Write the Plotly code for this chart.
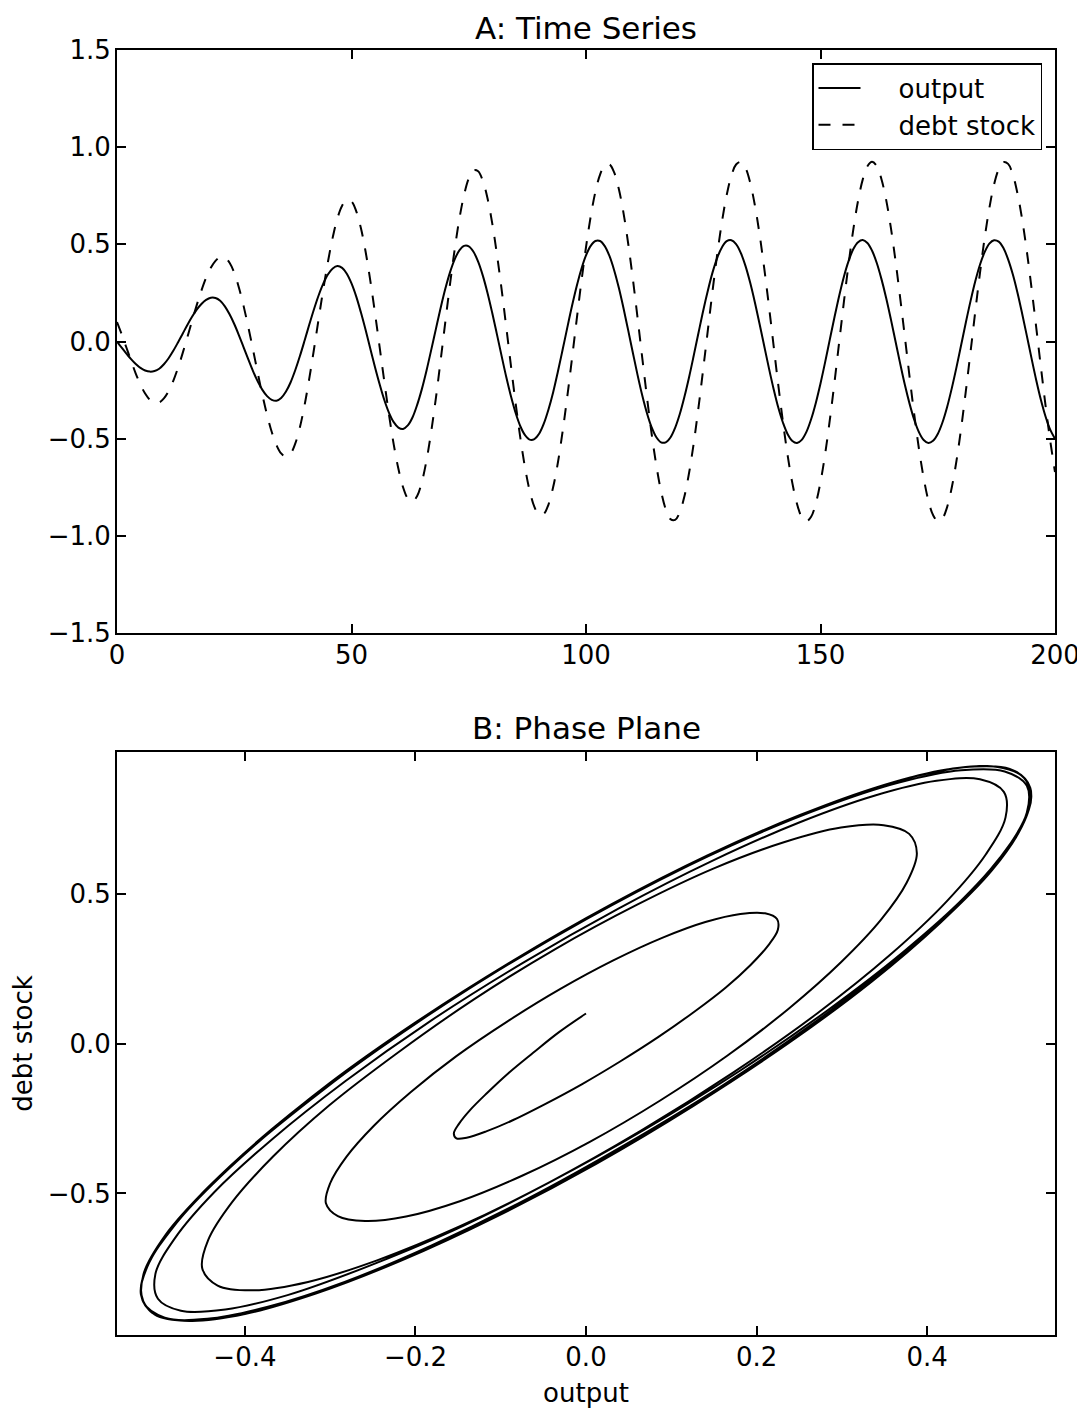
import plotly.graph_objects as go

# ---- data ----
time = list(range(0, 201))

output = [
    0.000, -0.032, -0.062, -0.091, -0.116, -0.136, -0.149, -0.155,
    -0.152, -0.140, -0.117, -0.086, -0.048, -0.005, 0.040, 0.085, 0.127, 0.164, 0.193, 0.214, 0.225,
    0.224, 0.210, 0.181, 0.140, 0.090, 0.032, -0.030, -0.092, -0.152, -0.205, -0.249, -0.281, -0.300,
    -0.305, -0.291, -0.259, -0.211, -0.148, -0.075, 0.005, 0.087, 0.166, 0.238, 0.299, 0.346, 0.376, 0.388,
    0.379, 0.349, 0.299, 0.232, 0.150, 0.060, -0.036, -0.131, -0.220, -0.301, -0.367, -0.415, -0.443,
    -0.450, -0.432, -0.391, -0.326, -0.245, -0.149, -0.043, 0.065, 0.172, 0.271, 0.356, 0.423, 0.469, 0.492,
    0.490, 0.462, 0.411, 0.339, 0.250, 0.148, 0.038, -0.074, -0.183, -0.282, -0.368, -0.436, -0.482, -0.505,
    -0.502, -0.475, -0.423, -0.350, -0.261, -0.156, -0.044, 0.070, 0.181, 0.283, 0.372, 0.443, 0.492, 0.517,
    0.517, 0.491, 0.440, 0.367, 0.276, 0.171, 0.057, -0.059, -0.173, -0.278, -0.369, -0.442, -0.493, -0.519,
    -0.519, -0.494, -0.444, -0.373, -0.283, -0.181, -0.069, 0.046, 0.160, 0.264, 0.357, 0.432, 0.485, 0.516,
    0.521, 0.501, 0.456, 0.389, 0.303, 0.202, 0.091, -0.023, -0.137, -0.244, -0.340, -0.418, -0.477, -0.512,
    -0.522, -0.506, -0.465, -0.400, -0.316, -0.216, -0.105, 0.012, 0.127, 0.237, 0.335, 0.415, 0.476, 0.511,
    0.522, 0.507, 0.467, 0.404, 0.321, 0.224, 0.115, 0.000, -0.115, -0.224, -0.321, -0.404, -0.467, -0.507, -0.522,
    -0.511, -0.476, -0.417, -0.337, -0.240, -0.132, -0.017, 0.099, 0.209, 0.310, 0.395, 0.460, 0.504, 0.521,
    0.514, 0.481, 0.423, 0.346, 0.251, 0.143, 0.029, -0.087, -0.199, -0.301, -0.387, -0.455, -0.500,
]

debt_stock = [
    0.100, 0.037, -0.031, -0.099, -0.165, -0.222, -0.268, -0.300, -0.316,
    -0.314, -0.293, -0.256, -0.202, -0.136, -0.060, 0.022, 0.106, 0.187, 0.262, 0.328, 0.379, 0.415, 0.434,
    0.432, 0.405, 0.353, 0.277, 0.182, 0.074, -0.042, -0.161, -0.275, -0.378, -0.466, -0.533, -0.576, -0.592,
    -0.577, -0.526, -0.441, -0.327, -0.190, -0.040, 0.117, 0.271, 0.413, 0.536, 0.634, 0.699, 0.728,
    0.720, 0.671, 0.584, 0.463, 0.315, 0.148, -0.029, -0.206, -0.377, -0.529, -0.655, -0.750, -0.807,
    -0.823, -0.795, -0.723, -0.611, -0.463, -0.290, -0.098, 0.100, 0.294, 0.474, 0.631, 0.754, 0.839, 0.881,
    0.876, 0.827, 0.737, 0.609, 0.450, 0.269, 0.074, -0.125, -0.319, -0.496, -0.649, -0.769, -0.851, -0.891,
    -0.887, -0.839, -0.749, -0.624, -0.465, -0.285, -0.090, 0.110, 0.305, 0.485, 0.643, 0.770, 0.859, 0.907,
    0.911, 0.870, 0.785, 0.661, 0.503, 0.320, 0.120, -0.085, -0.287, -0.476, -0.638, -0.770, -0.863, -0.914,
    -0.918, -0.878, -0.795, -0.673, -0.518, -0.337, -0.140, 0.062, 0.264, 0.452, 0.618, 0.754, 0.853, 0.911,
    0.924, 0.893, 0.818, 0.702, 0.553, 0.377, 0.183, -0.021, -0.224, -0.415, -0.587, -0.729, -0.836, -0.903,
    -0.925, -0.902, -0.833, -0.723, -0.577, -0.401, -0.206, 0.000, 0.206, 0.401, 0.577, 0.723, 0.833, 0.902,
    0.925, 0.903, 0.835, 0.729, 0.586, 0.414, 0.222, 0.021, -0.183, -0.377, -0.554, -0.702, -0.818, -0.893, -0.924,
    -0.910, -0.852, -0.750, -0.613, -0.444, -0.253, -0.052, 0.154, 0.352, 0.533, 0.686, 0.807, 0.886, 0.923,
    0.914, 0.859, 0.762, 0.628, 0.463, 0.274, 0.072, -0.133, -0.333, -0.514, -0.672,
]

ts_x_ticks = [0, 50, 100, 150, 200]
ts_y_ticks = [-1.5, -1.0, -0.5, 0.0, 0.5, 1.0, 1.5]
pp_x_ticks = [-0.4, -0.2, 0.0, 0.2, 0.4]
pp_y_ticks = [-0.5, 0.0, 0.5]

# ---- figure ----
FONT = "DejaVu Sans"
BLACK = "#000000"
PAD = "\u00a0" * 4

fig = go.Figure()

fig.add_trace(go.Scatter(
    x=time, y=output, name=PAD + "output", mode="lines",
    line=dict(color=BLACK, width=2, shape="spline"),
    xaxis="x", yaxis="y",
))
fig.add_trace(go.Scatter(
    x=time, y=debt_stock, name=PAD + "debt stock", mode="lines",
    line=dict(color=BLACK, width=2, dash="12px,12px", shape="spline"),
    xaxis="x", yaxis="y",
))
fig.add_trace(go.Scatter(
    x=output, y=debt_stock, name="phase", mode="lines", showlegend=False,
    line=dict(color=BLACK, width=2, shape="spline"),
    xaxis="x2", yaxis="y2",
))

axis_common = dict(
    showline=True, linecolor=BLACK, linewidth=2, mirror="ticks",
    ticks="inside", ticklen=9, tickwidth=1.5, tickcolor=BLACK,
    showgrid=False, zeroline=False,
    tickfont=dict(family=FONT, size=26, color=BLACK),
    automargin=False,
)

# the page body adds an 8 px offset, so the figure is 8 px smaller
W, H = 1077, 1400
ML, MR, MT, MB = 109, 30, 42, 73
plot_w = W - ML - MR
plot_h = H - MT - MB
OFF = 8  # screen offset


def sy(y_screen):
    """screen y (px) -> paper y"""
    return 1 - (y_screen - OFF - MT) / plot_h


def sx(x_screen):
    return (x_screen - OFF - ML) / plot_w


top_dom = [sy(633), 1.0]
bot_dom = [0.0, sy(752)]

fig.update_layout(
    width=W, height=H,
    margin=dict(l=ML, r=MR, t=MT, b=MB),
    paper_bgcolor="white", plot_bgcolor="white",
    font=dict(family=FONT, size=26, color=BLACK),
    showlegend=True,
    legend=dict(
        x=sx(1042), xanchor="right",
        y=sy(63), yanchor="top",
        bordercolor=BLACK, borderwidth=1.5, bgcolor="white",
        font=dict(family=FONT, size=26, color=BLACK),
        itemwidth=42,
    ),
    xaxis=dict(
        axis_common, domain=[0, 1], anchor="y", range=[0, 200],
        tickvals=ts_x_ticks, ticklabelstandoff=-2,
    ),
    yaxis=dict(
        axis_common, domain=top_dom, anchor="x", range=[-1.5, 1.5],
        tickvals=ts_y_ticks, tickformat=".1f", ticklabelstandoff=-1,
    ),
    xaxis2=dict(
        axis_common, domain=[0, 1], anchor="y2", range=[-0.55, 0.55],
        tickvals=pp_x_ticks, tickformat=".1f", ticklabelstandoff=-2,
        title=dict(text="output", font=dict(family=FONT, size=26, color=BLACK), standoff=17),
    ),
    yaxis2=dict(
        axis_common, domain=bot_dom, anchor="x2", range=[-0.972, 0.972],
        tickvals=pp_y_ticks, tickformat=".1f", ticklabelstandoff=-1,
        title=dict(text="debt stock", font=dict(family=FONT, size=26, color=BLACK), standoff=13),
    ),
    annotations=[
        dict(text="A: Time Series", xref="paper", yref="paper",
             x=0.5, y=sy(28), xanchor="center", yanchor="middle",
             showarrow=False, font=dict(family=FONT, size=31, color=BLACK)),
        dict(text="B: Phase Plane", xref="paper", yref="paper",
             x=0.5, y=sy(728), xanchor="center", yanchor="middle",
             showarrow=False, font=dict(family=FONT, size=31, color=BLACK)),
    ],
)

fig.write_html("out.html")
